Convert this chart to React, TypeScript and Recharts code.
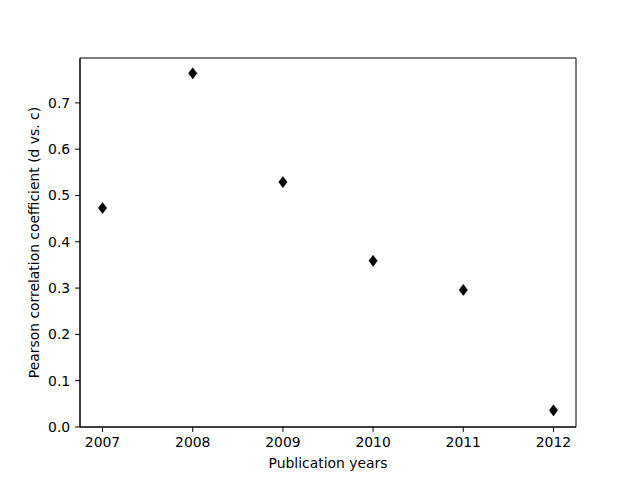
import React from "react";
import { ScatterChart, Scatter, XAxis, YAxis, ReferenceArea } from "recharts";

const years = [2007, 2008, 2009, 2010, 2011, 2012];
const pearson = [0.473, 0.764, 0.529, 0.359, 0.296, 0.036];
const yTicks = [0, 0.1, 0.2, 0.3, 0.4, 0.5, 0.6, 0.7];

const data = years.map((y, i) => ({ year: y, r: pearson[i] }));

const X_MIN = 2006.75;
const X_MAX = 2012.25;
const Y_MIN = 0;
const Y_MAX = 0.797;

const Diamond = (props: any) => {
  const { cx, cy } = props;
  const w = 4.2;
  const h = 5.6;
  return (
    <path
      d={`M${cx},${cy - h} L${cx + w},${cy} L${cx},${cy + h} L${cx - w},${cy} Z`}
      fill="#000"
      stroke="#000"
      strokeWidth={0.5}
    />
  );
};

const font = "DejaVu Sans, sans-serif";
const fs = 13.9;

export default function App() {
  return (
    <div style={{ position: "absolute", left: 0, top: 0, width: 640, height: 480, background: "#fff" }}>
      <ScatterChart width={640} height={480} margin={{ top: 58, right: 64, bottom: 23, left: 20 }}>
        <XAxis
          type="number"
          dataKey="year"
          domain={[X_MIN, X_MAX]}
          ticks={years}
          height={30}
          tickLine={{ stroke: "#000" }}
          tickSize={4.9}
          tickMargin={4.9}
          axisLine={{ stroke: "#000" }}
          tick={{ fill: "#000", fontSize: fs, fontFamily: font }}
          tickFormatter={(v: number) => String(v)}
          label={{ value: "Publication years", position: "insideBottom", offset: -11, fill: "#000", fontSize: fs, fontFamily: font }}
          allowDataOverflow
        />
        <YAxis
          type="number"
          dataKey="r"
          domain={[Y_MIN, Y_MAX]}
          ticks={yTicks}
          width={60}
          tickLine={{ stroke: "#000" }}
          tickSize={4.9}
          tickMargin={4.9}
          axisLine={{ stroke: "#000" }}
          tick={{ fill: "#000", fontSize: fs, fontFamily: font }}
          tickFormatter={(v: number) => v.toFixed(1)}
          label={{
            value: "Pearson correlation coefficient (d vs. c)",
            angle: -90,
            position: "insideLeft",
            offset: 14,
            style: { textAnchor: "middle" },
            fill: "#000",
            fontSize: fs,
            fontFamily: font,
          }}
          allowDataOverflow
        />
        <ReferenceArea
          x1={X_MIN}
          x2={X_MAX}
          y1={Y_MIN}
          y2={Y_MAX}
          fill="none"
          stroke="#000"
          strokeWidth={1}
          ifOverflow="visible"
        />
        <Scatter data={data} shape={Diamond} isAnimationActive={false} />
      </ScatterChart>
    </div>
  );
}
